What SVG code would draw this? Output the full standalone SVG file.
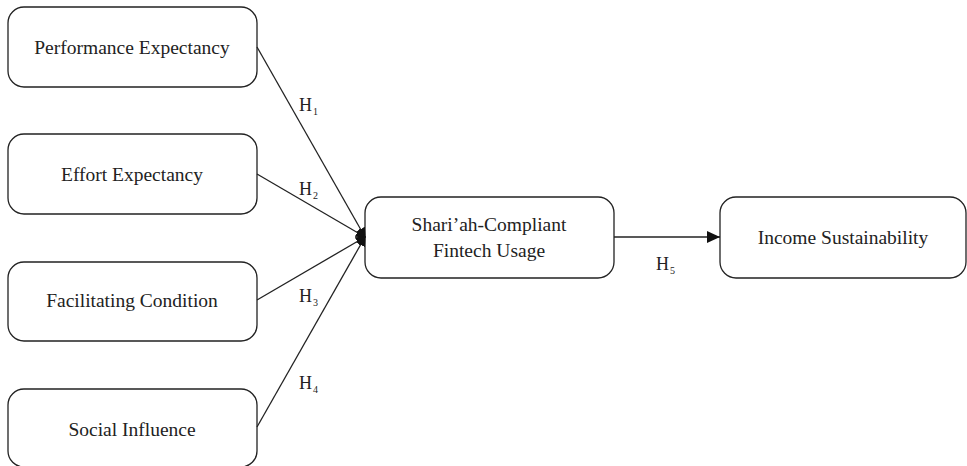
<svg xmlns="http://www.w3.org/2000/svg" width="967" height="466" viewBox="0 0 967 466">
<style>
.box{fill:#fff;stroke:#222;stroke-width:1.3}
.t{font-family:"Liberation Serif","DejaVu Serif",serif;font-size:19.5px;fill:#222;text-anchor:middle}
.h{font-family:"Liberation Serif","DejaVu Serif",serif;font-size:18px;fill:#222}
.s{font-size:10px}
.c{stroke:#222;stroke-width:1.3;fill:none}
</style>
<defs>
<marker id="ah" markerWidth="10" markerHeight="10" refX="9" refY="5" orient="auto" markerUnits="userSpaceOnUse">
<path d="M0,0 L10,5 L0,10 Z" fill="#111"/>
</marker>
<marker id="ah2" markerWidth="14" markerHeight="14" refX="13" refY="7" orient="auto" markerUnits="userSpaceOnUse">
<path d="M0,1 L13,7 L0,13 Z" fill="#111"/>
</marker>
</defs>
<g id="n1"><rect class="box" x="8" y="7" width="249" height="80" rx="16"/><text class="t" x="132" y="54">Performance Expectancy</text></g>
<g id="n2"><rect class="box" x="8" y="134" width="249" height="80" rx="16"/><text class="t" x="132" y="181">Effort Expectancy</text></g>
<g id="n3"><rect class="box" x="8" y="262" width="249" height="79" rx="16"/><text class="t" x="132" y="307">Facilitating Condition</text></g>
<g id="n4"><rect class="box" x="8" y="389" width="249" height="78" rx="16"/><text class="t" x="132" y="436">Social Influence</text></g>
<g id="n5"><rect class="box" x="365" y="197" width="249" height="81" rx="16"/><text class="t" x="489" y="231">Shari’ah-Compliant</text><text class="t" x="489" y="257">Fintech Usage</text></g>
<g id="n6"><rect class="box" x="720" y="197" width="246" height="81" rx="16"/><text class="t" x="843" y="244">Income Sustainability</text></g>
<g id="connectors">
<line class="c" x1="257" y1="47" x2="365" y2="237" marker-end="url(#ah)"/>
<line class="c" x1="257" y1="174" x2="365" y2="237" marker-end="url(#ah)"/>
<line class="c" x1="257" y1="300" x2="365" y2="237" marker-end="url(#ah)"/>
<line class="c" x1="257" y1="427" x2="365" y2="237" marker-end="url(#ah)"/>
<line class="c" x1="614" y1="237" x2="720" y2="237" marker-end="url(#ah2)"/>
<text class="h" x="299" y="111">H<tspan class="s" dx="1" dy="4">1</tspan></text>
<text class="h" x="299" y="195">H<tspan class="s" dx="1" dy="4">2</tspan></text>
<text class="h" x="299" y="302">H<tspan class="s" dx="1" dy="4">3</tspan></text>
<text class="h" x="299" y="389">H<tspan class="s" dx="1" dy="4">4</tspan></text>
<text class="h" x="656" y="270">H<tspan class="s" dx="1" dy="4">5</tspan></text>
</g>
</svg>
